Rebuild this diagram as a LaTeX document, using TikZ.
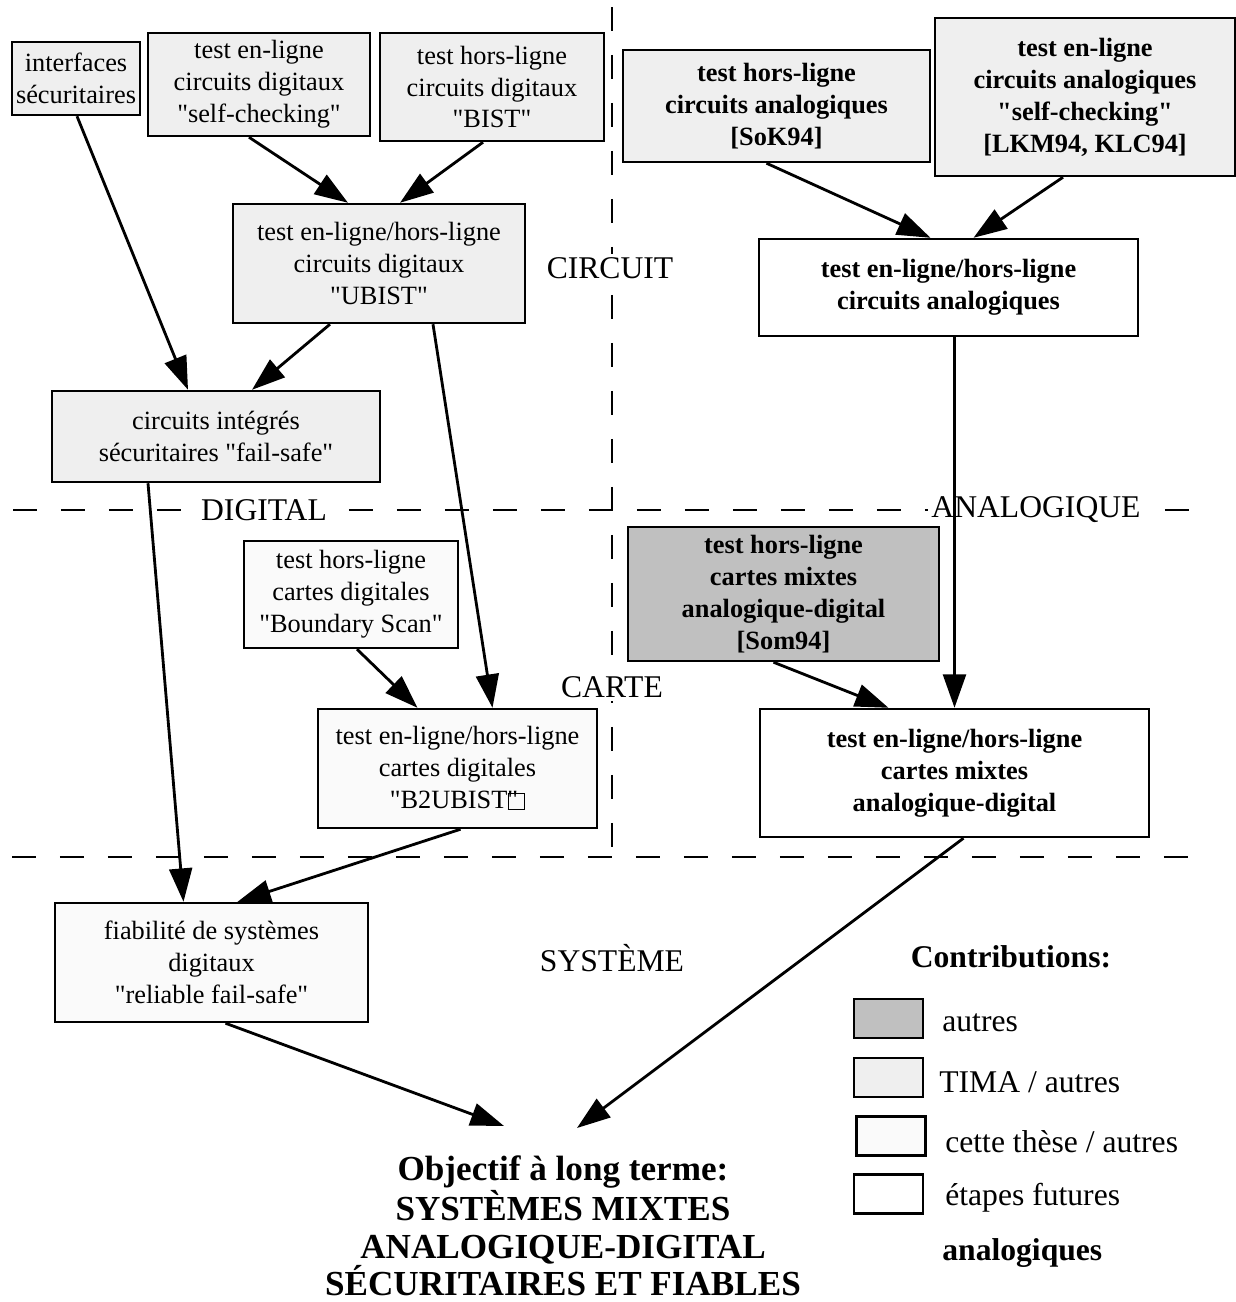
\documentclass[tikz,border=0pt]{standalone}
\usepackage{fontspec}
\setmainfont{Liberation Serif}[Ligatures=TeXOff]
\usetikzlibrary{arrows.meta,calc}
\definecolor{autregray}{HTML}{C0C0C0}
\definecolor{timagray}{HTML}{EFEFEF}
\definecolor{thesegray}{HTML}{FAFAFA}

\begin{document}
\begin{tikzpicture}[x=0.02cm,y=-0.02cm,>={Triangle[length=19pt,width=13pt]},
  box/.style={draw,line width=1.4pt,align=center,inner sep=0pt,font=\fontsize{15}{18.2}\selectfont},
  gras/.style={font=\fontsize{15}{18.2}\selectfont\bfseries},
  tima/.style={box,fill=timagray},
  these/.style={box,fill=thesegray},
  autre/.style={box,fill=autregray},
  futur/.style={box,fill=white},
  zone/.style={fill=white,inner sep=2pt,font=\fontsize{18}{21}\selectfont},
  fleche/.style={->,line width=1.6pt},
  limite/.style={line width=1.5pt,dash pattern=on 0.48cm off 0.48cm},
  legende/.style={draw,line width=1.4pt,minimum width=1.38cm,minimum height=0.78cm,inner sep=0pt},
  texteleg/.style={anchor=west,inner sep=0pt,font=\fontsize{18}{21}\selectfont}]
  \useasboundingbox (0,0) rectangle (1236,1302);

  % zones
  \draw[limite] (13,510) -- (1190,510);
  \draw[limite] (12,857) -- (1190,857);
  \draw[limite] (612,7) -- (612,857);
  \node[zone] (circuit) at (610,268) {CIRCUIT};
  \node[zone] (carte) at (612,687) {CARTE};
  \node[zone] (systeme) at (612,958) {SYSTÈME};
  \node[zone] (digital) at (264,510) {DIGITAL};
  \node[zone] (analogique) at (1036,510) {ANALOGIQUE};

  % digital
  \node[tima,minimum width=2.56cm,minimum height=1.46cm] (interfaces) at (76,78.5) {interfaces\\sécuritaires};
  \node[tima,minimum width=4.44cm,minimum height=2.06cm] (selfcheck) at (259,84.5) {test en-ligne\\circuits digitaux\\"self-checking"};
  \node[tima,minimum width=4.48cm,minimum height=2.16cm] (bist) at (492,87) {test hors-ligne\\circuits digitaux\\"BIST"};
  \node[tima,minimum width=5.84cm,minimum height=2.38cm] (ubist) at (379,263.5) {test en-ligne/hors-ligne\\circuits digitaux\\"UBIST"};
  \node[tima,minimum width=6.56cm,minimum height=1.82cm] (integres) at (216,436.5) {circuits intégrés\\sécuritaires "fail-safe"};
  \node[these,minimum width=4.28cm,minimum height=2.14cm] (boundary) at (351,594.5) {test hors-ligne\\cartes digitales\\"Boundary Scan"};
  \node[these,minimum width=5.58cm,minimum height=2.38cm] (b2ubist) at (457.5,768.5) {test en-ligne/hors-ligne\\cartes digitales\\"B2UBIST\rlap{"}{\fboxsep=0pt\fboxrule=0.9pt\fbox{\rule{0pt}{0.55em}\hspace{0.55em}}}};
  \node[these,minimum width=6.26cm,minimum height=2.38cm] (fiabilite) at (211.5,962.5) {fiabilité de systèmes\\digitaux\\"reliable fail-safe"};

  % analogique
  \node[tima,gras,minimum width=6.14cm,minimum height=2.24cm] (sok) at (776.5,106) {test hors-ligne\\circuits analogiques\\{[SoK94]}};
  \node[tima,gras,minimum width=6cm,minimum height=3.16cm] (lkm) at (1085,97) {test en-ligne\\circuits analogiques\\"self-checking"\\{[LKM94, KLC94]}};
  \node[futur,gras,minimum width=7.58cm,minimum height=1.94cm] (analog) at (948.5,287.5) {test en-ligne/hors-ligne\\circuits analogiques};
  \node[autre,gras,minimum width=6.22cm,minimum height=2.68cm] (som) at (783.5,594) {test hors-ligne\\cartes mixtes\\analogique-digital\\{[Som94]}};
  \node[futur,gras,minimum width=7.78cm,minimum height=2.56cm] (mixte) at (954.5,773) {test en-ligne/hors-ligne\\cartes mixtes\\analogique-digital};

  % objectif
  \node[align=center,inner sep=0pt,font=\fontsize{20}{21.5}\selectfont\bfseries] (objectif) at (563,1226) {Objectif à long terme:\\SYSTÈMES MIXTES\\ANALOGIQUE-DIGITAL\\SÉCURITAIRES ET FIABLES};
  \coordinate (butG) at (504,1126);
  \coordinate (butD) at (577,1128);

  % fleches
  \draw[fleche] ($(selfcheck.south)+(-10,0)$) -- ($(ubist.north)+(-31,0)$);
  \draw[fleche] ($(bist.south)+(-9,0)$) -- ($(ubist.north)+(21,0)$);
  \draw[fleche] ($(interfaces.south)+(1,0)$) -- ($(integres.north)+(-28,0)$);
  \draw[fleche] ($(ubist.south)+(-49,0)$) -- ($(integres.north)+(36,0)$);
  \draw[fleche] ($(ubist.south)+(54,0)$) -- ($(b2ubist.north)+(35,0)$);
  \draw[fleche] ($(boundary.south)+(6,0)$) -- ($(b2ubist.north)+(-40,0)$);
  \draw[fleche] ($(integres.south)+(-68,0)$) -- ($(fiabilite.north)+(-28,0)$);
  \draw[fleche] ($(b2ubist.south)+(3,0)$) -- ($(fiabilite.north)+(26,0)$);
  \draw[fleche] ($(fiabilite.south)+(14,0)$) -- (butG);
  \draw[fleche] ($(mixte.south)+(9,0)$) -- (butD);
  \draw[fleche] ($(sok.south)+(-10,0)$) -- ($(analog.north)+(-18,0)$);
  \draw[fleche] ($(lkm.south)+(-22,0)$) -- ($(analog.north)+(25,0)$);
  \draw[fleche] (analog.south -| mixte.north) -- (mixte.north);
  \draw[fleche] ($(som.south)+(-10,0)$) -- ($(mixte.north)+(-66,0)$);

  % legende
  \node[font=\fontsize{18}{21}\selectfont\bfseries] (contrib) at (1011,957) {Contributions:};
  \node[legende,fill=autregray] (legautre) at (888.5,1018.5) {};
  \node[legende,fill=timagray] (legtima) at (888.5,1077.5) {};
  \node[legende,fill=thesegray] (legthese) at (891,1136) {};
  \node[legende,fill=white] (legfutur) at (888.5,1194) {};
  \node[texteleg] (txtautre) at (942,1023) {autres};
  \node[texteleg] (txttima) at (939,1082) {TIMA / autres};
  \node[texteleg] (txtthese) at (945,1142) {cette thèse / autres};
  \node[texteleg] (txtfutur) at (945,1198) {étapes futures};
  \node[texteleg,font=\fontsize{18}{21}\selectfont\bfseries] (txtanalog) at (942,1253) {analogiques};
\end{tikzpicture}
\end{document}
